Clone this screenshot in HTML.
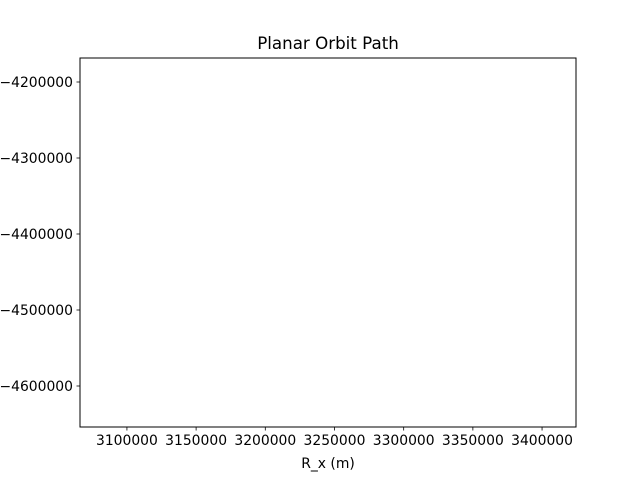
<!DOCTYPE html>
<html><head><meta charset="utf-8"><style>
body{margin:0;background:#fff;}
svg{display:block;font-family:"DejaVu Sans","Liberation Sans",sans-serif;}
</style></head><body>
<svg id="chart" width="640" height="480" viewBox="0 0 640 480">
<rect width="640" height="480" fill="#fff"/>
<text x="328" y="49" font-size="16.7" text-anchor="middle" fill="#000">Planar Orbit Path</text>
<g id="ticks"></g>
<g id="series"></g>
<rect x="80" y="58" width="496" height="369" fill="none" stroke="#000" stroke-width="1"/>
<text x="328" y="468" font-size="13.9" text-anchor="middle" fill="#000">R_x (m)</text>
</svg>
<script>
const xTicks = [3100000, 3150000, 3200000, 3250000, 3300000, 3350000, 3400000];
const yTicks = [-4200000, -4300000, -4400000, -4500000, -4600000];
const pathX = [];
const pathY = [];
const xMin = 3066090, xMax = 3424530;
const yMin = -4653950, yMax = -4168420;
const L = 80, R = 576, T = 58, B = 427;
function sx(v){ return L + (v - xMin) / (xMax - xMin) * (R - L); }
function sy(v){ return B - (v - yMin) / (yMax - yMin) * (B - T); }
const NS = "http://www.w3.org/2000/svg";
const tg = document.getElementById('ticks');
function mk(tag, attrs){ const e = document.createElementNS(NS, tag); for (const k in attrs) e.setAttribute(k, attrs[k]); return e; }
xTicks.forEach(v => {
  const x = sx(v);
  const t = mk('line', {x1:x, x2:x, y1:B, y2:B+3.5, stroke:'#000', 'stroke-width':0.8});
  
  
  tg.appendChild(t);
  const l = mk('text', {x:x, y:B+18, 'font-size':13.9, 'text-anchor':'middle', fill:'#000'});
  
  
  l.textContent = String(v);
  tg.appendChild(l);
});
yTicks.forEach(v => {
  const y = sy(v);
  const t = mk('line', {x1:L-3.5, x2:L, y1:y, y2:y, stroke:'#000', 'stroke-width':0.8});
  
  
  tg.appendChild(t);
  const l = mk('text', {x:L-7, y:y+5, 'font-size':13.9, 'text-anchor':'end', fill:'#000'});
  
  
  l.textContent = '\u2212' + String(Math.abs(v));
  tg.appendChild(l);
});
if (pathX.length) {
  const d = pathX.map((v, i) => (i ? 'L' : 'M') + sx(v) + ' ' + sy(pathY[i])).join(' ');
  const p = mk('path', {d:d, fill:'none', stroke:'#1f77b4', 'stroke-width':1.5});
  
  
  document.getElementById('series').appendChild(p);
}
</script>
</body></html>
